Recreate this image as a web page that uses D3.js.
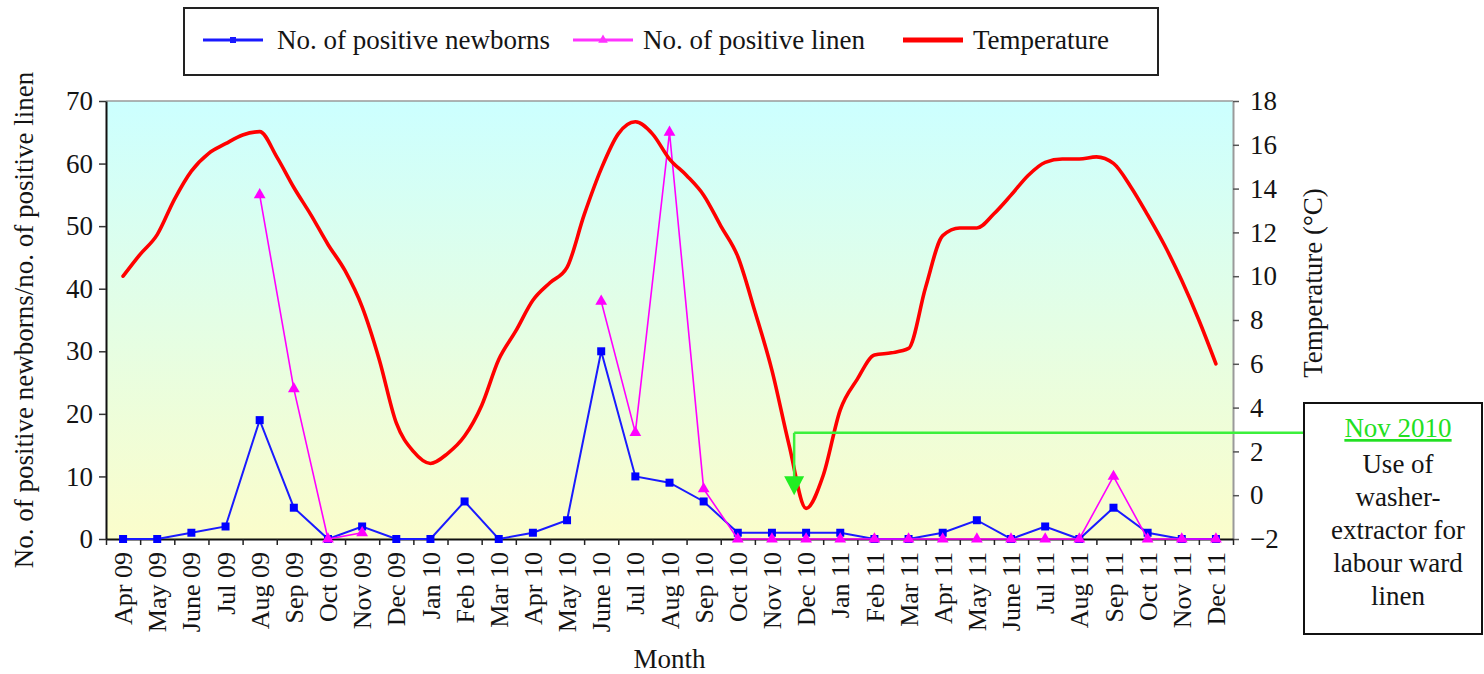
<!DOCTYPE html>
<html>
<head>
<meta charset="utf-8">
<script src="https://cdn.jsdelivr.net/npm/d3@7"></script>
<style>
  html, body { margin: 0; padding: 0; background: #fff; }
  svg { display: block; }
  svg text { font-family: "Liberation Serif", "Tinos", "Times New Roman", "DejaVu Serif", serif !important; fill: #141414; }
</style>
</head>
<body>
<svg id="chart" width="1484" height="674"></svg>
<script>
// ---------------- DATA ----------------
const months = ["Apr 09","May 09","June 09","Jul 09","Aug 09","Sep 09","Oct 09","Nov 09","Dec 09",
  "Jan 10","Feb 10","Mar 10","Apr 10","May 10","June 10","Jul 10","Aug 10","Sep 10","Oct 10","Nov 10","Dec 10",
  "Jan 11","Feb 11","Mar 11","Apr 11","May 11","June 11","Jul 11","Aug 11","Sep 11","Oct 11","Nov 11","Dec 11"];

const newborns = [0,0,1,2,19,5,0,2,0,0,6,0,1,3,30,10,9,6,1,1,1,1,0,0,1,3,0,2,0,5,1,0,0];

const linen = [null,null,null,null,55,24,0,1,null,null,null,null,null,null,38,17,65,8,0,0,0,0,0,0,0,0,0,0,0,10,0,0,0];

// Temperature read at half-month steps (start of series = Apr 09, step = 0.5 month)
const temperature = [10.0,11.0,11.9,13.5,14.8,15.6,16.05,16.45,16.6,15.45,14.05,12.8,11.45,10.25,8.6,6.2,3.3,2.0,1.45,1.9,
  2.7,4.1,6.2,7.5,8.9,9.7,10.4,12.8,14.9,16.5,17.05,16.5,15.35,14.6,13.7,12.3,10.9,8.4,5.7,2.3,
  -0.6,0.9,3.9,5.3,6.4,6.5,6.7,9.5,11.85,12.2,12.2,12.85,13.7,14.6,15.2,15.35,15.35,15.45,15.15,14.1,
  12.8,11.4,9.8,8.0,6.0];
const tempStep = 0.5;

const leftTicks = [0,10,20,30,40,50,60,70];
const rightTicks = [-2,0,2,4,6,8,10,12,14,16,18];

const seriesNames = ["No. of positive newborns", "No. of positive linen", "Temperature"];
const annotation = { month: 19.65, tempLevel: 2.85, tempTip: 0.0,
  title: "Nov 2010", lines: ["Use of","washer-","extractor for","labour ward","linen"] };

// ---------------- LAYOUT ----------------
const svg = d3.select("#chart");
const L = 106, R = 1233, T = 101, B = 539;
const FS = 27;
const FONT = '"Liberation Serif", "Tinos", "Times New Roman", "DejaVu Serif", serif';

const x = d3.scaleBand().domain(months).range([L, R]).padding(0);
const xPos = d3.scaleLinear().domain([-0.5, months.length - 0.5]).range([L, R]);
const yL = d3.scaleLinear().domain([0, 70]).range([B, T]);
const yR = d3.scaleLinear().domain([-2, 18]).range([B, T]);

// background gradient
const defs = svg.append("defs");
const grad = defs.append("linearGradient").attr("id","bg").attr("x1",0).attr("y1",0).attr("x2",0).attr("y2",1);
grad.append("stop").attr("offset","0%").attr("stop-color","#ccffff");
grad.append("stop").attr("offset","100%").attr("stop-color","#fbfdcb");

svg.append("rect").attr("x", L).attr("y", T).attr("width", R - L).attr("height", B - T).attr("fill", "url(#bg)");
svg.append("line").attr("x1", L).attr("x2", R).attr("y1", T).attr("y2", T).attr("stroke", "#9a9a9a").attr("stroke-width", 1.5);

// ---------------- AXES ----------------
const gL = svg.append("g").attr("transform", `translate(${L},0)`)
  .call(d3.axisLeft(yL).tickValues(leftTicks).tickSize(7).tickPadding(6).tickSizeOuter(0));
gL.attr("font-family", FONT);
gL.select(".domain").attr("stroke", "#111").attr("stroke-width", 2);
gL.selectAll(".tick line").attr("stroke", "#333").attr("stroke-width", 1.5);
gL.selectAll(".tick text").style("font-size", FS + "px").attr("fill", "#16163a");

const gR = svg.append("g").attr("transform", `translate(${R},0)`)
  .call(d3.axisRight(yR).tickValues(rightTicks).tickSize(6).tickPadding(11).tickSizeOuter(0));
gR.attr("font-family", FONT);
gR.select(".domain").attr("stroke", "#9a9a9a").attr("stroke-width", 2);
gR.selectAll(".tick line").attr("stroke", "#555").attr("stroke-width", 1.5);
gR.selectAll(".tick text").style("font-size", FS + "px").attr("fill", "#16163a");

// bottom: boundary tick marks
const gB = svg.append("g").attr("transform", `translate(0,${B})`)
  .call(d3.axisBottom(xPos).tickValues(d3.range(-0.5, months.length, 1)).tickSize(6).tickFormat("").tickSizeOuter(0));
gB.select(".domain").attr("stroke", "#111").attr("stroke-width", 2);
gB.selectAll(".tick line").attr("stroke", "#222").attr("stroke-width", 1.5);

// bottom: month labels
const gBL = svg.append("g").attr("transform", `translate(0,${B})`)
  .call(d3.axisBottom(x).tickSize(0));
gBL.attr("font-family", FONT);
gBL.select(".domain").remove();
gBL.selectAll(".tick text")
  .style("font-size", "26px")
  .attr("fill", "#111")
  .attr("text-anchor", "end")
  .attr("transform", "rotate(-90)")
  .attr("x", -13).attr("y", 0).attr("dy", "0.35em");

// axis titles
svg.append("text").attr("transform", `translate(33,${(T + B) / 2}) rotate(-90)`)
  .attr("text-anchor", "middle").style("font-size", FS + "px")
  .text("No. of positive newborns/no. of positive linen");
svg.append("text").attr("transform", `translate(1322,283) rotate(-90)`)
  .attr("text-anchor", "middle").style("font-size", FS + "px")
  .text("Temperature (°C)");
svg.append("text").attr("x", (L + R) / 2).attr("y", 668)
  .attr("text-anchor", "middle").style("font-size", FS + "px").text("Month");

// ---------------- SERIES ----------------
const cx = (d, i) => x(months[i]) + x.bandwidth() / 2;
const tri = d3.symbol().type(d3.symbolTriangle);
const sq = d3.symbol().type(d3.symbolSquare);

svg.append("path").datum(newborns)
  .attr("fill", "none").attr("stroke", "#1a1aff").attr("stroke-width", 2)
  .attr("d", d3.line().x(cx).y(d => yL(d)));
svg.append("g").selectAll("path").data(newborns).join("path")
  .attr("transform", (d, i) => `translate(${cx(d, i)},${yL(d)})`)
  .attr("d", sq.size(64)).attr("fill", "#0000ff");

svg.append("path").datum(linen)
  .attr("fill", "none").attr("stroke", "#ff00ff").attr("stroke-width", 1.6)
  .attr("d", d3.line().defined(d => d !== null).x(cx).y(d => yL(d)));
svg.append("g").selectAll("path").data(linen.map((v, i) => ({v, i})).filter(d => d.v !== null)).join("path")
  .attr("transform", d => `translate(${cx(null, d.i)},${yL(d.v)})`)
  .attr("d", tri.size(60)).attr("fill", "#ff00ff");

svg.append("path").datum(temperature)
  .attr("fill", "none").attr("stroke", "#ff0000").attr("stroke-width", 3.6)
  .attr("stroke-linejoin", "round").attr("stroke-linecap", "round")
  .attr("d", d3.line().curve(d3.curveMonotoneX).x((d, i) => xPos(i * tempStep)).y(d => yR(d)));

// ---------------- ANNOTATION ----------------
const green = "#3cf03c";
const ax = xPos(annotation.month), ay = yR(annotation.tempLevel), tipY = yR(annotation.tempTip);
const boxX = 1304, boxY = 403, boxW = 178, boxH = 231;
svg.append("line").attr("x1", ax).attr("x2", boxX).attr("y1", ay).attr("y2", ay)
  .attr("stroke", green).attr("stroke-width", 2.5);
svg.append("line").attr("x1", ax).attr("x2", ax).attr("y1", ay).attr("y2", tipY - 18)
  .attr("stroke", green).attr("stroke-width", 2.5);
svg.append("path").attr("d", `M${ax - 10},${tipY - 19} L${ax + 10},${tipY - 19} L${ax},${tipY} Z`).attr("fill", "#22ee22");

svg.append("rect").attr("x", boxX).attr("y", boxY).attr("width", boxW).attr("height", boxH)
  .attr("fill", "#fff").attr("stroke", "#111").attr("stroke-width", 2);
const tcx = 1398;
svg.append("text").attr("x", tcx).attr("y", 437).attr("text-anchor", "middle")
  .style("font-size", FS + "px").style("text-decoration", "underline").style("fill", "#22e022")
  .text(annotation.title);
annotation.lines.forEach((t, i) => {
  svg.append("text").attr("x", tcx).attr("y", 473 + i * 33).attr("text-anchor", "middle")
    .style("font-size", FS + "px").text(t);
});

// ---------------- LEGEND ----------------
const lg = svg.append("g");
lg.append("rect").attr("x", 184).attr("y", 8).attr("width", 974).attr("height", 67)
  .attr("fill", "#fff").attr("stroke", "#222").attr("stroke-width", 2);
const legendItems = [
  {name: seriesNames[0], color: "#1a1aff", w: 3, x0: 203, tx: 277, mark: sq.size(36)},
  {name: seriesNames[1], color: "#ff33ff", w: 3, x0: 573, tx: 643, mark: tri.size(40)},
  {name: seriesNames[2], color: "#ff0000", w: 5, x0: 903, tx: 973, mark: null}
];
const ly = 40;
legendItems.forEach(it => {
  lg.append("line").attr("x1", it.x0).attr("x2", it.x0 + 60).attr("y1", ly).attr("y2", ly)
    .attr("stroke", it.color).attr("stroke-width", it.w);
  if (it.mark) lg.append("path").attr("transform", `translate(${it.x0 + 30},${ly})`).attr("d", it.mark).attr("fill", it.color);
  lg.append("text").attr("x", it.tx).attr("y", ly).attr("dy", "0.33em")
    .style("font-size", FS + "px").text(it.name);
});
</script>
</body>
</html>
